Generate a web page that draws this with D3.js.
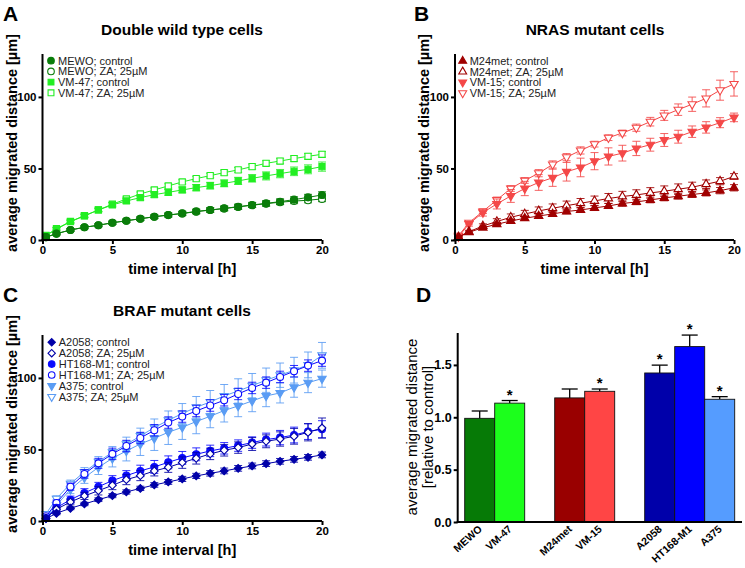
<!DOCTYPE html>
<html><head><meta charset="utf-8">
<script src="https://cdn.jsdelivr.net/npm/d3@7"></script>
<style>body{margin:0;background:#fff;} svg{display:block;}</style>
</head><body>
<svg id="c" width="745" height="568"></svg>
<script>
// ---------- DATA ----------
const timePoints = [0.25,1,2,3,4,5,6,7,8,9,10,11,12,13,14,15,16,17,18,19,20];

// Panel A: double wild type
const mewoControl = [2,4.3,7,8.9,10.3,12.1,13.5,14.9,16.3,17.5,18.6,20,21,22.1,23.3,24.5,25.6,26.8,28.2,29.8,31.5];
const mewoControlErr = [0.5,0.8,1,1,1,1.2,1.2,1.3,1.3,1.4,1.5,1.6,1.6,1.7,1.8,1.8,1.9,2,2,2.1,2.2];
const mewoZA = [2,4.5,7,8.9,10.3,12,13.4,14.8,16.2,17.4,18.5,19.8,20.9,22,23.1,24.3,25.4,26.4,27.2,27.8,28.7];
const mewoZAErr = [0.5,0.8,0.8,1,1,1,1.1,1.2,1.2,1.3,1.3,1.4,1.5,1.5,1.6,1.6,1.7,1.7,1.8,1.8,1.9];
const vm47Control = [3,7.5,12.8,16.8,21,24.5,27.3,29.6,31.7,33.3,35,36.6,38,39.6,41.3,43.1,44.8,46.4,48,49.4,51.3];
const vm47ControlErr = [0.5,1,1,1.2,1.3,1.5,1.6,1.7,1.8,2,2,2.2,2.3,2.4,2.5,2.6,2.8,2.9,3,3.1,3.2];
const vm47ZA = [3.2,7.9,13,17,21,25,28.7,32.2,35,37.8,40.6,42.9,45,47.1,49,51.3,53.6,55.2,56.9,58.5,59.9];
const vm47ZAErr = [0.5,0.8,1,1,1.1,1.2,1.3,1.3,1.4,1.5,1.5,1.6,1.6,1.7,1.7,1.8,1.8,1.9,1.9,2,2];

// Panel B: NRAS mutant
const m24Control = [2,5.4,8.6,11,13.3,15.2,16.8,18.2,19.9,21,22.4,23.8,25.5,26.6,28,29.4,30.6,31.8,32.9,34.5,36.5];
const m24ControlErr = [0.5,0.8,1,1.2,1.3,1.4,1.5,1.6,1.6,1.7,1.8,1.8,1.9,1.9,2,2,2,2.1,2.1,2.2,2.2];
const m24ZA = [2,5.8,9.8,12.9,15.9,18.2,20.3,22.2,24,25.7,27.3,29,30.4,31.5,32.9,34.1,35.5,36.9,39,41.1,44.4];
const m24ZAErr = [0.5,1,1.5,2,2.3,2.5,2.8,3,3.2,3.3,3.4,3.5,3.6,3.6,3.7,3.7,3.7,3.5,3,2.5,2];
const vm15Control = [2.3,11.2,19.2,25.2,30.8,36,40.2,43.5,47.7,50.7,55.1,58.4,60.7,64,66.6,69.9,72.2,75.7,78.7,82,85.7];
const vm15ControlErr = [0.5,1.5,2.5,3.5,4.5,5,5.5,6,6.5,6.5,6,6,5.5,5,4.5,4.5,4.5,4,4,3.5,3];
const vm15ZA = [3,12.1,20,28,36,41.6,46.7,52.8,57.9,62.6,67,71.5,74.8,78.5,82.7,87.1,91.1,94.9,99,104.7,109.1];
const vm15ZAErr = [0.5,1,1.5,2,2,2,2.5,2.5,2.5,2.5,2,2,2,2.5,3,3.5,4,5,6,7,8.5];

// Panel C: BRAF mutant
const a2058Control = [1.6,5.4,8.9,11.9,14.9,17.7,20.3,22.8,25.2,27.3,29.4,31.5,33.3,35,36.8,38.5,40.1,41.7,43.1,44.5,46.2];
const a2058ControlErr = [0.5,1,1,1.2,1.3,1.4,1.5,1.5,1.6,1.7,1.8,1.8,1.9,2,2,2,2,2,2,2,2];
const a2058ZA = [2,8.2,13.3,17.5,21.2,24.9,28.9,31.7,35,37.5,40.8,43.8,46.9,49.4,51.3,53.8,55.7,57.3,59.2,62,65];
const a2058ZAErr = [0.5,1.5,2,2.5,3,3,3.5,3.5,3.5,3.5,4,4,4,4,4,4.5,4.5,5,5.5,6,7];
const ht168Control = [2.1,9.3,14.9,19.6,24,28.2,31.7,35,37.8,41,44.1,46.6,49,50.8,52.7,54.8,56.9,58.3,60.1,62.5,64.1];
const ht168ControlErr = [0.5,2,2.5,3,3,3.5,3.5,4,4.5,4.5,4.5,4.5,4,4,4,4,4.5,5,5.5,5.5,6];
const ht168ZA = [3.3,12.6,24,32.9,40.3,46.9,52.4,58,63.4,68.8,73,76.9,80.7,84.4,88.8,93,96.7,100.7,104.7,108.6,112.1];
const ht168ZAErr = [0.5,2,2.5,3,3.5,4,4,4,4,4,4,4,4,4,4,4,4,4,4,4,4];
const a375Control = [2.5,11,22.1,30.3,37.5,43.8,49,53.8,57.8,62,65.5,69.5,73.2,77.2,80.4,83.9,87.4,89.5,93.5,96.7,99.5];
const a375ControlErr = [1,2,3,4,5,6,7,8,8.5,8.5,8.5,8.5,8,8,7.5,7.5,7.5,7,7,7,6];
const a375ZA = [5,15.6,26.1,34.3,41.5,48,53.6,59.4,65.3,70.4,75.1,79.5,83.2,87.4,90.9,94.6,98.4,101.9,105.4,109.1,115.8];
const a375ZAErr = [1,2,2.5,3,3.5,4,5,5.5,6,6.5,7,7.5,8,8,8.5,8.5,8.5,8.5,9,9,9];

const lineYTicks = [0,50,100];
const lineXTicks = [0,5,10,15,20];

// Panel D: relative migration
const barGroups = [["MEWO","VM-47"],["M24met","VM-15"],["A2058","HT168-M1","A375"]];
const barCategories = ["MEWO","VM-47","M24met","VM-15","A2058","HT168-M1","A375"];
const barValues = [0.99,1.135,1.185,1.248,1.423,1.675,1.172];
const barErrors = [0.07,0.025,0.085,0.022,0.075,0.11,0.025];
const barSignificant = [false,true,false,true,true,true,true];
const barYTicks = [0.0,0.5,1.0,1.5];

// ---------- STYLE ----------
const FONT = "'Liberation Sans', Arial, Helvetica, sans-serif";
const C = {
  dgreen:"#0a7d0a", lgreen:"#22ee22",
  dred:"#a00000", lred:"#f44848",
  dblue:"#0000a8", blue:"#0a0aff", lblue:"#5a9cf4"
};
const barColors = ["#067a06","#1cff1c","#990000","#ff4545","#0000aa","#0000ff","#559cff"];

const svg = d3.select("#c");

function symbolFor(shape){
  if(shape==="circle") return {type:d3.symbolCircle,size:38,rot:0};
  if(shape==="square") return {type:d3.symbolSquare,size:38,rot:0};
  if(shape==="triUp") return {type:d3.symbolTriangle,size:30,rot:0};
  if(shape==="triDown") return {type:d3.symbolTriangle,size:30,rot:180};
  if(shape==="diamond") return {type:d3.symbolSquare,size:30,rot:45};
}

function linePanel(cfg){
  const x = d3.scaleLinear().domain([0,20]).range([cfg.x0,cfg.x1]);
  const y = d3.scaleLinear().domain([0,130]).range([cfg.y0,cfg.y1]);
  const g = svg.append("g");
  cfg.series.slice().reverse().forEach(s=>{
    const pts = timePoints.map((t,i)=>({t,v:s.values[i],e:s.err[i]}));
    const sg = g.append("g");
    pts.forEach(p=>{
      const cx = x(p.t);
      sg.append("line").attr("x1",cx).attr("x2",cx).attr("y1",y(p.v-p.e)).attr("y2",y(p.v+p.e))
        .attr("stroke",s.color).attr("stroke-width",1).attr("opacity",0.85);
      [p.v-p.e,p.v+p.e].forEach(vv=>{
        sg.append("line").attr("x1",cx-4).attr("x2",cx+4).attr("y1",y(vv)).attr("y2",y(vv))
          .attr("stroke",s.color).attr("stroke-width",1).attr("opacity",0.85);
      });
    });
    sg.append("path").datum(pts)
      .attr("d",d3.line().x(d=>x(d.t)).y(d=>y(d.v)))
      .attr("fill","none").attr("stroke",s.color).attr("stroke-width",1);
    const sym = symbolFor(s.shape);
    sg.selectAll("path.m").data(pts).enter().append("path").attr("class","m")
      .attr("d",d3.symbol().type(sym.type).size(sym.size))
      .attr("transform",d=>`translate(${x(d.t)},${y(d.v)}) rotate(${sym.rot})`)
      .attr("fill",s.open?"#fff":s.color).attr("stroke",s.color).attr("stroke-width",1.1);
  });
  const ya = g.append("g").attr("transform",`translate(${cfg.x0},0)`)
    .call(d3.axisLeft(y).tickValues(lineYTicks).tickSize(4).tickPadding(2).tickFormat(d3.format("d")));
  const xa = g.append("g").attr("transform",`translate(0,${cfg.y0})`)
    .call(d3.axisBottom(x).tickValues(lineXTicks).tickSize(4).tickPadding(2).tickFormat(d3.format("d")));
  [ya,xa].forEach(a=>{
    a.select(".domain").attr("stroke","#000").attr("stroke-width",2);
    a.selectAll(".tick line").attr("stroke","#000").attr("stroke-width",2);
    a.selectAll(".tick text").attr("font-family",FONT).attr("font-size",11.5).attr("font-weight","bold").attr("fill","#000");
  });
  xa.select(".domain").attr("d",`M${cfg.x0-1},0H${cfg.x1}`);
  ya.select(".domain").attr("d",`M0,${cfg.y0+1}V${cfg.y1}`);
  g.append("text").attr("x",(cfg.x0+cfg.x1)/2).attr("y",cfg.y0+34).attr("text-anchor","middle")
    .attr("font-family",FONT).attr("font-size",14.5).attr("font-weight","bold").text("time interval [h]");
  g.append("text").attr("transform",`translate(${cfg.ylx},${cfg.yly}) rotate(-90)`).attr("text-anchor","middle")
    .attr("font-family",FONT).attr("font-size",14.5).attr("font-weight","bold").text("average migrated distance [µm]");
  g.append("text").attr("x",cfg.tx).attr("y",cfg.ty).attr("text-anchor","middle")
    .attr("font-family",FONT).attr("font-size",15.5).attr("font-weight","bold").text(cfg.title);
  g.append("text").attr("x",cfg.lx).attr("y",cfg.ly).attr("font-family",FONT).attr("font-size",21)
    .attr("font-weight","bold").text(cfg.letter);
  cfg.series.forEach((s,i)=>{
    const ly = cfg.legY + i*cfg.legDy;
    const sym = symbolFor(s.shape);
    g.append("path").attr("d",d3.symbol().type(sym.type).size(sym.size*0.9))
      .attr("transform",`translate(${cfg.legX},${ly}) rotate(${sym.rot})`)
      .attr("fill",s.open?"#fff":s.color).attr("stroke",s.color).attr("stroke-width",1.1);
    g.append("text").attr("x",cfg.legX+7).attr("y",ly+4).attr("font-family",FONT).attr("font-size",11)
      .attr("fill","#222").text(s.name);
  });
}

linePanel({x0:42.5,x1:322,y0:240,y1:54,title:"Double wild type cells",tx:182,ty:35,letter:"A",lx:3,ly:21,
  ylx:17,yly:143,legX:51,legY:60.7,legDy:10.7,
  series:[
    {name:"MEWO; control",values:mewoControl,err:mewoControlErr,color:C.dgreen,shape:"circle",open:false},
    {name:"MEWO; ZA; 25µM",values:mewoZA,err:mewoZAErr,color:C.dgreen,shape:"circle",open:true},
    {name:"VM-47; control",values:vm47Control,err:vm47ControlErr,color:C.lgreen,shape:"square",open:false},
    {name:"VM-47; ZA; 25µM",values:vm47ZA,err:vm47ZAErr,color:C.lgreen,shape:"square",open:true}
  ]});

linePanel({x0:455,x1:734,y0:240,y1:54,title:"NRAS mutant cells",tx:595,ty:35,letter:"B",lx:414,ly:21,
  ylx:429,yly:143,legX:462.7,legY:61,legDy:10.7,
  series:[
    {name:"M24met; control",values:m24Control,err:m24ControlErr,color:C.dred,shape:"triUp",open:false},
    {name:"M24met; ZA; 25µM",values:m24ZA,err:m24ZAErr,color:C.dred,shape:"triUp",open:true},
    {name:"VM-15; control",values:vm15Control,err:vm15ControlErr,color:C.lred,shape:"triDown",open:false},
    {name:"VM-15; ZA; 25µM",values:vm15ZA,err:vm15ZAErr,color:C.lred,shape:"triDown",open:true}
  ]});

linePanel({x0:42.5,x1:322,y0:521,y1:335,title:"BRAF mutant cells",tx:182,ty:316,letter:"C",lx:3,ly:302,
  ylx:17,yly:424,legX:51.7,legY:342.3,legDy:10.9,
  series:[
    {name:"A2058; control",values:a2058Control,err:a2058ControlErr,color:C.dblue,shape:"diamond",open:false},
    {name:"A2058; ZA; 25µM",values:a2058ZA,err:a2058ZAErr,color:C.dblue,shape:"diamond",open:true},
    {name:"HT168-M1; control",values:ht168Control,err:ht168ControlErr,color:C.blue,shape:"circle",open:false},
    {name:"HT168-M1; ZA; 25µM",values:ht168ZA,err:ht168ZAErr,color:C.blue,shape:"circle",open:true},
    {name:"A375; control",values:a375Control,err:a375ControlErr,color:C.lblue,shape:"triDown",open:false},
    {name:"A375; ZA; 25µM",values:a375ZA,err:a375ZAErr,color:C.lblue,shape:"triDown",open:true}
  ]});

// ---------- Panel D ----------
(function(){
  const slots = [];
  barGroups.forEach((grp,i)=>{ if(i>0) slots.push("gap"+i); grp.forEach(c=>slots.push(c)); });
  const x = d3.scaleBand().domain(slots).range([464.7,734.7]).padding(0);
  const y = d3.scaleLinear().domain([0,1.8]).range([522,333.5]);
  const g = svg.append("g");
  const data = barCategories.map((c,i)=>({c,v:barValues[i],e:barErrors[i],s:barSignificant[i],col:barColors[i]}));
  data.forEach(d=>{
    const cx = x(d.c)+x.bandwidth()/2;
    g.append("line").attr("x1",cx).attr("x2",cx).attr("y1",y(d.v)).attr("y2",y(d.v+d.e)).attr("stroke","#000").attr("stroke-width",1.3);
    g.append("line").attr("x1",cx-8).attr("x2",cx+8).attr("y1",y(d.v+d.e)).attr("y2",y(d.v+d.e)).attr("stroke","#000").attr("stroke-width",1.3);
    if(d.s) g.append("text").attr("x",cx).attr("y",y(d.v+d.e)-1).attr("text-anchor","middle")
      .attr("font-family",FONT).attr("font-size",15).attr("font-weight","bold").text("*");
  });
  g.selectAll("rect.bar").data(data).enter().append("rect").attr("class","bar")
    .attr("x",d=>x(d.c)).attr("y",d=>y(d.v)).attr("width",x.bandwidth()).attr("height",d=>y(0)-y(d.v))
    .attr("fill",d=>d.col).attr("stroke","#111").attr("stroke-width",0.9);
  const ya = g.append("g").attr("transform","translate(457.7,0)")
    .call(d3.axisLeft(y).tickValues(barYTicks).tickSize(4).tickPadding(2).tickFormat(d3.format(".1f")));
  ya.select(".domain").attr("stroke","#000").attr("stroke-width",2).attr("d","M0,523V333");
  ya.selectAll(".tick line").attr("stroke","#000").attr("stroke-width",2);
  ya.selectAll(".tick text").attr("font-family",FONT).attr("font-size",12.5).attr("font-weight","bold").attr("fill","#000");
  g.append("line").attr("x1",456.7).attr("x2",742).attr("y1",522).attr("y2",522).attr("stroke","#000").attr("stroke-width",2);
  data.forEach(d=>{
    const cx = x(d.c)+x.bandwidth()/2;
    g.append("text").attr("transform",`translate(${cx+3},${530}) rotate(-42)`).attr("text-anchor","end")
      .attr("font-family",FONT).attr("font-size",10.5).attr("font-weight","bold").text(d.c);
  });
  g.append("text").attr("transform","translate(417,427) rotate(-90)").attr("text-anchor","middle")
    .attr("font-family",FONT).attr("font-size",15).text("average migrated distance");
  g.append("text").attr("transform","translate(433,427) rotate(-90)").attr("text-anchor","middle")
    .attr("font-family",FONT).attr("font-size",15).text("[relative to control]");
  g.append("text").attr("x",416).attr("y",302).attr("font-family",FONT).attr("font-size",21)
    .attr("font-weight","bold").text("D");
})();
</script>
</body></html>
